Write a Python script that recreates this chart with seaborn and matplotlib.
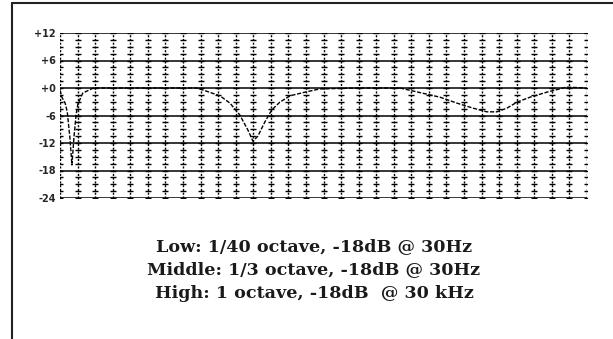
import numpy as np
import pandas as pd
import matplotlib
matplotlib.use("Agg")
import matplotlib.pyplot as plt
from matplotlib.lines import Line2D
import seaborn as sns

# frequency axis: 1/3 octave columns from 20 Hz to ~20 kHz
band_freqs = [20 * 2 ** (k / 3) for k in range(31)]
db_ticks = [12, 6, 0, -6, -12, -18, -24]
db_labels = ["+12", "+6", "+0", "-6", "-12", "-18", "-24"]

# curves (Hz, dB)
low_freq = [20, 20.5, 21.4, 22, 22.8, 23.4, 24, 24.7, 25.3, 27, 31, 50]
low_gain = [-0.5, -2.0, -3.3, -5.2, -11.0, -16.8, -11.0, -5.9, -3.5, -1.1, 0.0, 0.0]

mid_freq = [50, 120, 135, 164, 187, 213, 237, 253, 270, 296, 324, 360, 412, 502, 610, 1000, 1750]
mid_gain = [0.0, 0.0, -0.6, -1.7, -3.3, -5.9, -9.2, -11.6, -10.5, -7.4, -4.8, -3.1, -1.7, -0.9, -0.2, 0.0, 0.0]

high_freq = [1750, 2334, 2960, 3700, 4580, 5490, 6260, 7140, 8140, 9680, 12100, 15700, 19900]
high_gain = [0.0, -1.1, -2.0, -3.3, -4.4, -5.2, -5.2, -4.4, -3.1, -2.0, -0.9, 0.2, 0.0]

captions = [
    "Low: 1/40 octave, -18dB @ 30Hz",
    "Middle: 1/3 octave, -18dB @ 30Hz",
    "High: 1 octave, -18dB  @ 30 kHz",
]

df = pd.concat([
    pd.DataFrame({"freq": low_freq, "gain": low_gain, "band": "Low"}),
    pd.DataFrame({"freq": mid_freq, "gain": mid_gain, "band": "Middle"}),
    pd.DataFrame({"freq": high_freq, "gain": high_gain, "band": "High"}),
])

sns.set_style("white")
fig = plt.figure(figsize=(6.13, 3.39), dpi=100)
ax = fig.add_axes([60 / 613, 1 - 198 / 339, 527 / 613, 165 / 339])

# grid: dotted verticals with little cross ticks, solid horizontals every 6 dB
for f in band_freqs:
    ax.axvline(f, color="black", lw=1.0, ls=(0, (1.5, 1.2)), zorder=1)
minor = np.arange(-24, 12.01, 1.5)
gx, gy = np.meshgrid(band_freqs, minor)
ax.scatter(gx.ravel(), gy.ravel(), marker="_", s=14, lw=1.0, color="black", zorder=1)
for d in db_ticks:
    ax.axhline(d, color="black", lw=1.1, zorder=1)

sns.lineplot(data=df, x="freq", y="gain", units="band", estimator=None, sort=False,
             color="black", lw=1.0, ls=(0, (3, 1.2)), ax=ax, zorder=3, legend=False)

ax.set_xscale("log")
ax.set_xlim(band_freqs[0], band_freqs[-1])
ax.set_ylim(-24, 12)
ax.set_xticks([])
ax.set_xticks([], minor=True)
ax.set_yticks(db_ticks)
ax.set_yticklabels(db_labels, fontsize=7, fontweight="bold")
ax.tick_params(axis="y", length=0, pad=3)
ax.set_xlabel("")
ax.set_ylabel("")
for s in ax.spines.values():
    s.set_visible(False)

# frame of the scanned page
fig.add_artist(Line2D([12 / 613, 1.0], [1 - 3 / 339, 1 - 3 / 339], color="#222222", lw=1.5))
fig.add_artist(Line2D([12 / 613, 12 / 613], [0, 1 - 3 / 339], color="#222222", lw=1.5))

for i, line in enumerate(captions):
    fig.text(314 / 613, 1 - (251 + 23.5 * i) / 339, line, ha="center", va="baseline",
             fontsize=12.6, fontweight="bold", family="DejaVu Serif", color="#1a1a1a")

fig.savefig("out.png", dpi=100)
